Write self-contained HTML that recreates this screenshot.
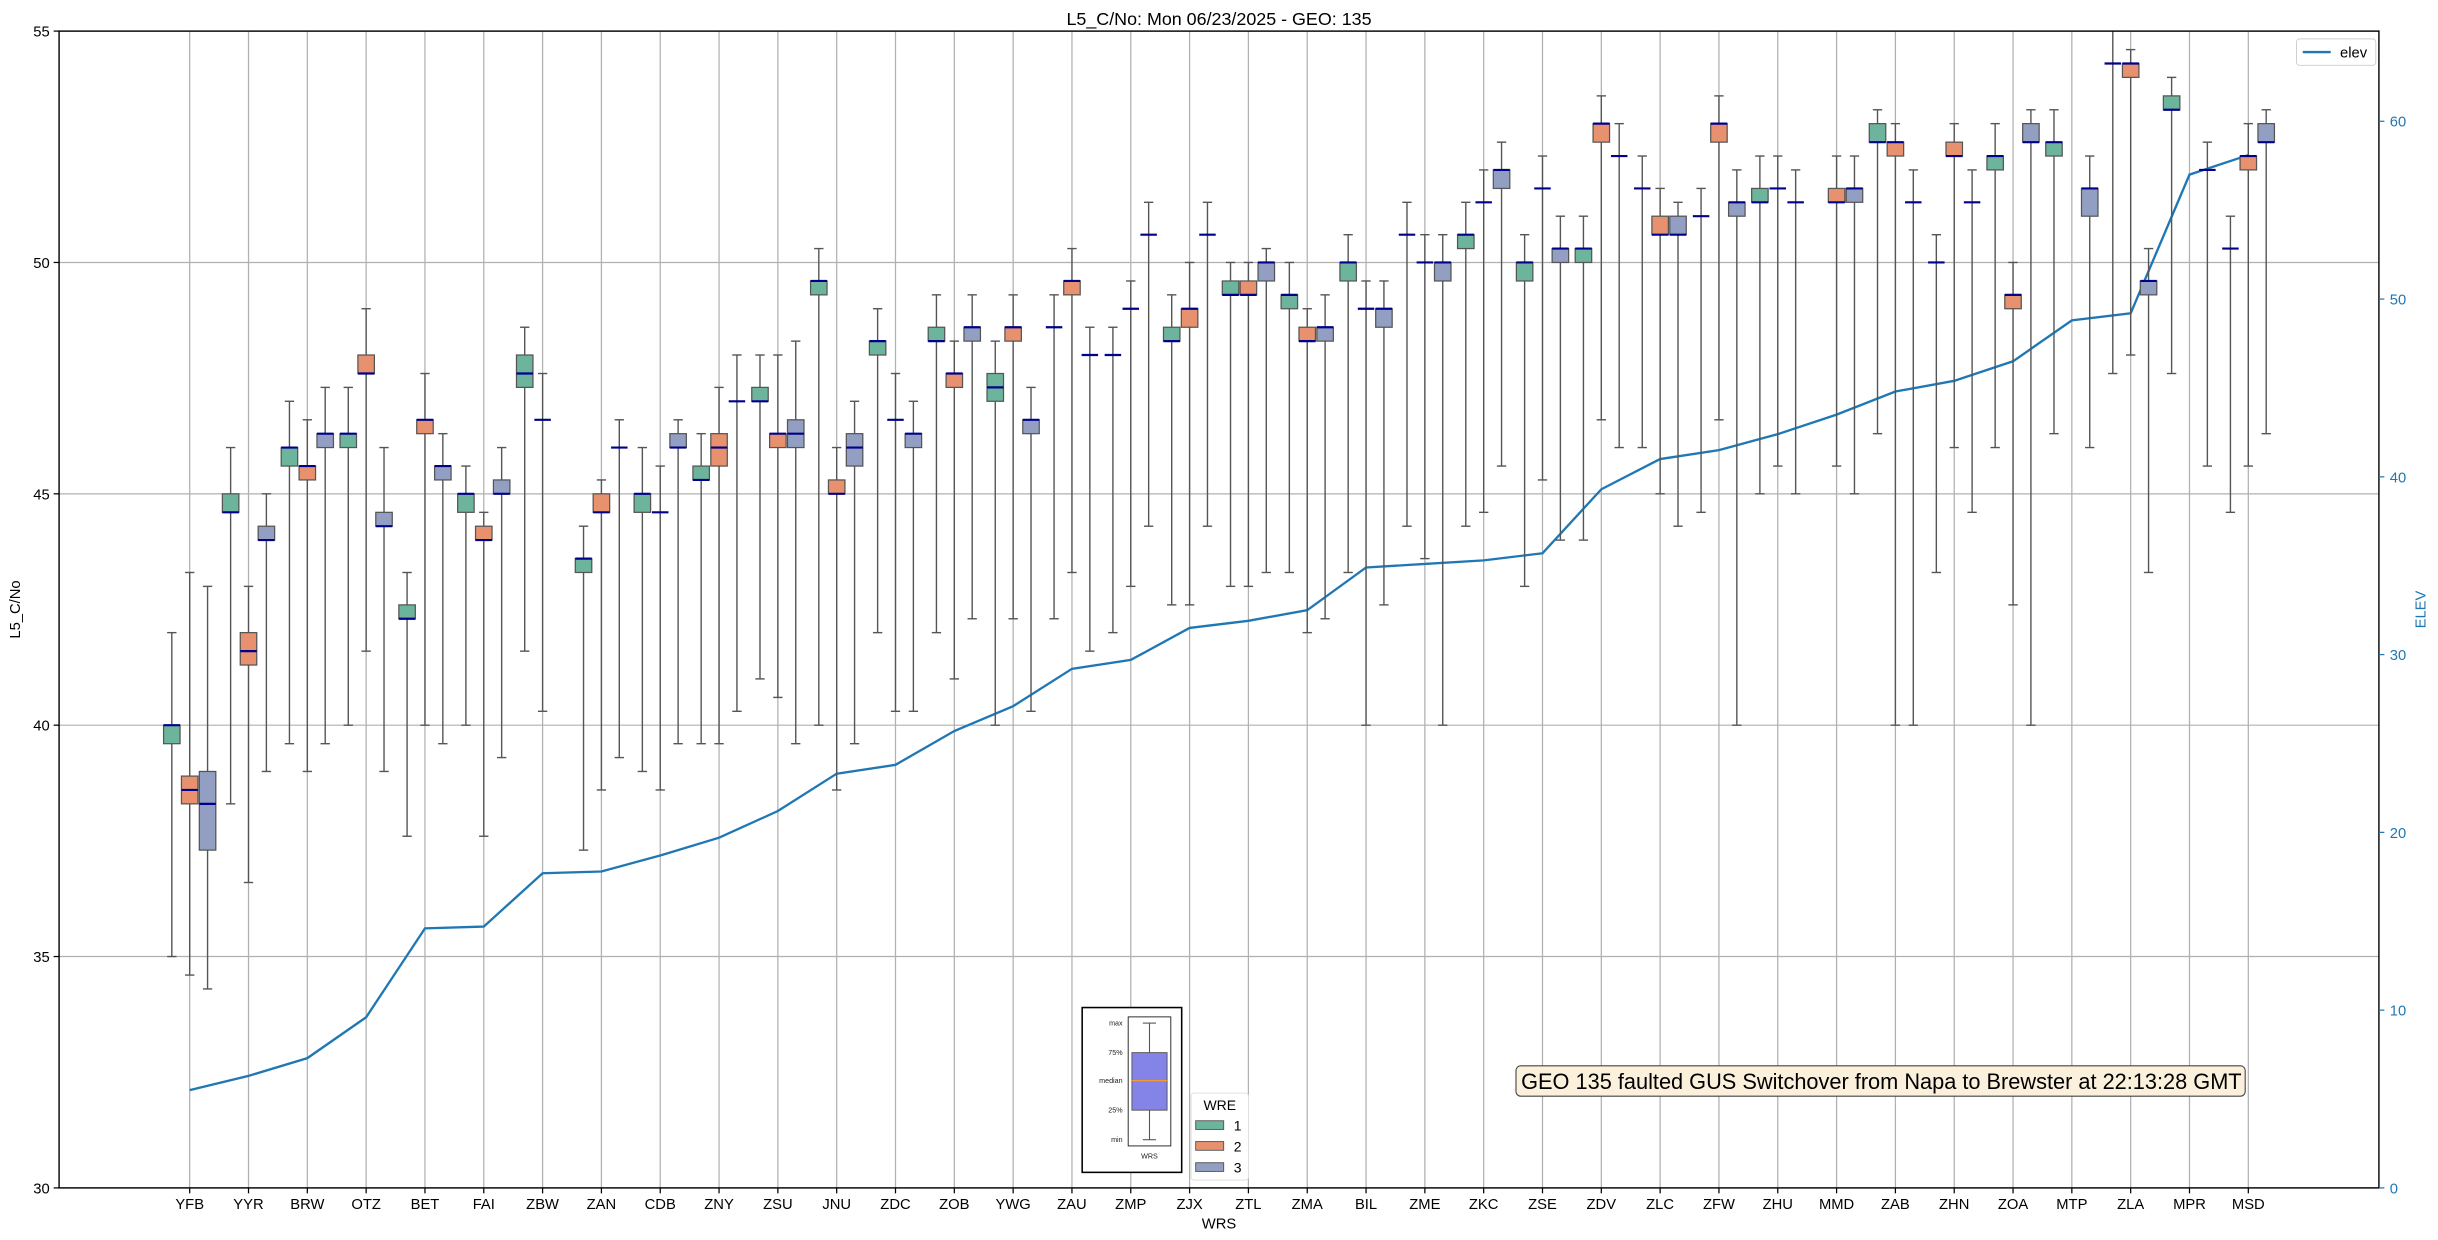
<!DOCTYPE html>
<html><head><meta charset="utf-8"><style>
html,body{margin:0;padding:0;background:#fff;}
svg{display:block;font-family:"Liberation Sans","DejaVu Sans",sans-serif;}
</style></head><body>
<svg id="chart" width="2438" height="1240" viewBox="0 0 1568 797.5" preserveAspectRatio="none" xmlns="http://www.w3.org/2000/svg">
<rect x="0" y="0" width="1568" height="797.5" fill="#fff"/>
<g id="grid"></g>
<g id="elevg"></g>
<g id="boxes"></g>
<rect x="38" y="20" width="1492" height="744" fill="none" stroke="#000" stroke-width="0.9"/>
<g id="axes"></g>
<text x="784" y="16" font-size="11.5" text-anchor="middle">L5_C/No: Mon 06/23/2025 - GEO: 135</text>
<text x="784" y="790" font-size="9.5" text-anchor="middle">WRS</text>
<text transform="translate(13,392) rotate(-90)" font-size="9.5" text-anchor="middle">L5_C/No</text>
<text transform="translate(1560,392) rotate(-90)" font-size="9.5" fill="#1f77b4" text-anchor="middle">ELEV</text>

<g>
<rect x="1477" y="25" width="51" height="17" rx="2" fill="#fff" stroke="#ccc" stroke-width="0.6"/>
<line x1="1481" y1="33.5" x2="1499" y2="33.5" stroke="#1f77b4" stroke-width="1.5"/>
<text x="1505" y="37" font-size="9.5">elev</text>
</g>

<g>
<rect x="696" y="648" width="64" height="106" fill="#fff" stroke="#000" stroke-width="1"/>
<rect x="725.6" y="654" width="27.4" height="83" fill="#fff" stroke="#222" stroke-width="0.6"/>
<line x1="739.3" y1="658" x2="739.3" y2="733" stroke="#555" stroke-width="0.7"/>
<line x1="735" y1="658" x2="743.5" y2="658" stroke="#555" stroke-width="0.7"/>
<line x1="735" y1="733" x2="743.5" y2="733" stroke="#555" stroke-width="0.7"/>
<rect x="728" y="677" width="22.6" height="37" fill="#8484e8" stroke="#555" stroke-width="0.6"/>
<line x1="728" y1="695" x2="750.6" y2="695" stroke="#f59a30" stroke-width="0.8"/>
<g font-size="4.6" fill="#222" text-anchor="end">
<text x="722" y="659.5">max</text><text x="722" y="678.5">75%</text><text x="722" y="696.5">median</text><text x="722" y="715.5">25%</text><text x="722" y="734.5">min</text>
</g>
<text x="739.3" y="745" font-size="4.6" text-anchor="middle" fill="#222">WRS</text>
</g>

<g>
<rect x="766" y="703" width="37" height="56" rx="2" fill="#fff" stroke="#ddd" stroke-width="0.6"/>
<text x="784.5" y="714" font-size="9" text-anchor="middle">WRE</text>
<rect x="769" y="720.8" width="18" height="5.6" fill="#6cb49c" stroke="#555" stroke-width="0.6"/>
<rect x="769" y="734.2" width="18" height="5.6" fill="#e8916e" stroke="#555" stroke-width="0.6"/>
<rect x="769" y="747.8" width="18" height="5.6" fill="#929fc2" stroke="#555" stroke-width="0.6"/>
<text x="796" y="727" font-size="9" text-anchor="middle">1</text>
<text x="796" y="740.5" font-size="9" text-anchor="middle">2</text>
<text x="796" y="754" font-size="9" text-anchor="middle">3</text>
</g>

<g>
<rect x="975" y="685.5" width="469" height="19.5" rx="3" fill="#faf0dc" stroke="#444" stroke-width="0.7"/>
<text x="1210" y="700.5" font-size="14" text-anchor="middle">GEO 135 faulted GUS Switchover from Napa to Brewster at 22:13:28 GMT</text>
</g>
</svg>
<script>
const categories = ["YFB","YYR","BRW","OTZ","BET","FAI","ZBW","ZAN","CDB","ZNY","ZSU","JNU","ZDC","ZOB","YWG","ZAU","ZMP","ZJX","ZTL","ZMA","BIL","ZME","ZKC","ZSE","ZDV","ZLC","ZFW","ZHU","MMD","ZAB","ZHN","ZOA","MTP","ZLA","MPR","MSD"];
// [min, q1, median, q3, max]
const wre1Stats = [[35,39.6,40,40,42],[38.3,44.6,44.6,45,46],[39.6,45.6,46,46,47],[40,46,46.3,46.3,47.3],[37.6,42.3,42.3,42.6,43.3],[40,44.6,45,45,45.6],[41.6,47.3,47.6,48,48.6],[37.3,43.3,43.6,43.6,44.3],[39,44.6,45,45,46],[39.6,45.3,45.3,45.6,46.3],[41,47,47,47.3,48],[40,49.3,49.6,49.6,50.3],[42,48,48.3,48.3,49],[42,48.3,48.3,48.6,49.3],[40,47,47.3,47.6,48.3],[42.3,48.6,48.6,48.6,49.3],[42,48,48,48,48.6],[42.6,48.3,48.3,48.6,49.3],[43,49.3,49.3,49.6,50],[43.3,49,49.3,49.3,50],[43.3,49.6,50,50,50.6],[44.3,50.6,50.6,50.6,51.3],[44.3,50.3,50.6,50.6,51.3],[43,49.6,50,50,50.6],[44,50,50.3,50.3,51],[46,51.6,51.6,51.6,52.3],[44.6,51,51,51,51.6],[45,51.3,51.3,51.6,52.3],null,[46.3,52.6,52.6,53,53.3],[43.3,50,50,50,50.6],[46,52,52.3,52.3,53],[46.3,52.3,52.6,52.6,53.3],[47.6,54.3,54.3,54.3,55.3],[47.6,53.3,53.3,53.6,54],[44.6,50.3,50.3,50.3,51]];
const wre2Stats = [[34.6,38.3,38.6,38.9,43.3],[36.6,41.3,41.6,42,43],[39,45.3,45.6,45.6,46.6],[41.6,47.6,47.6,48,49],[40,46.3,46.6,46.6,47.6],[37.6,44,44,44.3,44.6],[40.3,46.6,46.6,46.6,47.6],[38.6,44.6,44.6,45,45.3],[38.6,44.6,44.6,44.6,45.6],[39.6,45.6,46,46.3,47.3],[40.6,46,46.3,46.3,48],[38.6,45,45,45.3,46],[40.3,46.6,46.6,46.6,47.6],[41,47.3,47.6,47.6,48.3],[42.3,48.3,48.6,48.6,49.3],[43.3,49.3,49.6,49.6,50.3],[43,49,49,49,49.6],[42.6,48.6,49,49,50],[43,49.3,49.3,49.6,50],[42,48.3,48.3,48.6,49],[40,49,49,49,49.6],[43.6,50,50,50,50.6],[44.6,51.3,51.3,51.3,52],[45.3,51.6,51.6,51.6,52.3],[46.6,52.6,53,53,53.6],[45,50.6,50.6,51,51.6],[46.6,52.6,53,53,53.6],[45.6,51.6,51.6,51.6,52.3],[45.6,51.3,51.3,51.6,52.3],[40,52.3,52.6,52.6,53],[46,52.3,52.3,52.6,53],[42.6,49,49.3,49.3,50],null,[48,54,54.3,54.3,54.6],null,[45.6,52,52.3,52.3,53]];
const wre3Stats = [[34.3,37.3,38.3,39,43],[39,44,44,44.3,45],[39.6,46,46.3,46.3,47.3],[39,44.3,44.3,44.6,46],[39.6,45.3,45.6,45.6,46.3],[39.3,45,45,45.3,46],null,[39.3,46,46,46,46.6],[39.6,46,46,46.3,46.6],[40.3,47,47,47,48],[39.6,46,46.3,46.6,48.3],[39.6,45.6,46,46.3,47],[40.3,46,46.3,46.3,47],[42.3,48.3,48.6,48.6,49.3],[40.3,46.3,46.6,46.6,47.3],[41.6,48,48,48,48.6],[44.3,50.6,50.6,50.6,51.3],[44.3,50.6,50.6,50.6,51.3],[43.3,49.6,50,50,50.3],[42.3,48.3,48.6,48.6,49.3],[42.6,48.6,49,49,49.6],[40,49.6,50,50,50.6],[45.6,51.6,52,52,52.6],[44,50,50.3,50.3,51],[46,52.3,52.3,52.3,53],[44.3,50.6,50.6,51,51.3],[40,51,51.3,51.3,52],[45,51.3,51.3,51.3,52],[45,51.3,51.6,51.6,52.3],[40,51.3,51.3,51.3,52],[44.6,51.3,51.3,51.3,52],[40,52.6,52.6,53,53.3],[46,51,51.6,51.6,52.3],[43.3,49.3,49.6,49.6,50.3],[45.6,52,52,52,52.6],[46.3,52.6,52.6,53,53.3]];
const elevValues = [5.5,6.3,7.3,9.6,14.6,14.7,17.7,17.8,18.7,19.7,21.2,23.3,23.8,25.7,27.1,29.2,29.7,31.5,31.9,32.5,34.9,35.1,35.3,35.7,39.3,41.0,41.5,42.4,43.5,44.8,45.4,46.5,48.8,49.2,57.0,58.1];
const leftTicks = [30,35,40,45,50,55];
const rightTicks = [0,10,20,30,40,50,60];

const NS = "http://www.w3.org/2000/svg";
const L=38,R=1530,T=20,B=764;
const xPos = i => 122 + i*(1446-122)/35;
const yL = v => B - (v-30)/25*(B-T);
const yR = v => 764 - v/60*(764-78);
function mk(tag, attrs, parent){const e=document.createElementNS(NS,tag);for(const k in attrs)e.setAttribute(k,attrs[k]);parent.appendChild(e);return e;}
const grid=document.getElementById('grid'), axes=document.getElementById('axes'), boxes=document.getElementById('boxes'), elevg=document.getElementById('elevg');

leftTicks.forEach(t=>{
  const y=yL(t);
  const g=mk('line',{x1:L,x2:R,y1:y,y2:y,stroke:'#b0b0b0','stroke-width':0.8},grid);
  
  
  mk('line',{x1:L-3.5,x2:L,y1:y,y2:y,stroke:'#000','stroke-width':0.8},axes);
  const tx=mk('text',{x:L-6,y:y+3.5,'font-size':9.5,'text-anchor':'end'},axes);
  tx.textContent=t;
  
  
});
rightTicks.forEach(t=>{
  const y=yR(t);
  mk('line',{x1:R,x2:R+3.5,y1:y,y2:y,stroke:'#1f77b4','stroke-width':0.8},axes);
  const tx=mk('text',{x:R+7,y:y+3.5,'font-size':9.5,fill:'#1f77b4'},axes);
  tx.textContent=t;
  
  
});
categories.forEach((c,i)=>{
  const x=xPos(i);
  const g=mk('line',{x1:x,x2:x,y1:T,y2:B,stroke:'#b0b0b0','stroke-width':0.8},grid);
  
  
  mk('line',{x1:x,x2:x,y1:B,y2:B+3.5,stroke:'#000','stroke-width':0.8},axes);
  const tx=mk('text',{x:x,y:B+13.5,'font-size':9.5,'text-anchor':'middle'},axes);
  tx.textContent=c;
  
  
});

let d='';
elevValues.forEach((v,i)=>{d+=(i?'L':'M')+xPos(i).toFixed(2)+','+yR(v).toFixed(2);});
const ln=mk('path',{d:d,fill:'none',stroke:'#1f77b4','stroke-width':1.5},elevg);



const series=[{s:wre1Stats,off:-11.5,fill:'#6cb49c',n:'wre1'},{s:wre2Stats,off:0,fill:'#e8916e',n:'wre2'},{s:wre3Stats,off:11.5,fill:'#929fc2',n:'wre3'}];
const bw=10.6, cw=6;
series.forEach(se=>{
  se.s.forEach((st,i)=>{
    if(!st) return;
    const cx=xPos(i)+se.off;
    const [mn,q1,md,q3,mx]=st;
    const g=mk('g',{},boxes);
    
    
    const yT=Math.max(yL(mx),T);
    mk('line',{x1:cx,x2:cx,y1:yT,y2:yL(q3),stroke:'#555','stroke-width':0.9},g);
    mk('line',{x1:cx,x2:cx,y1:yL(q1),y2:yL(mn),stroke:'#555','stroke-width':0.9},g);
    if(yL(mx)>=T) mk('line',{x1:cx-cw/2,x2:cx+cw/2,y1:yL(mx),y2:yL(mx),stroke:'#555','stroke-width':0.9},g);
    mk('line',{x1:cx-cw/2,x2:cx+cw/2,y1:yL(mn),y2:yL(mn),stroke:'#555','stroke-width':0.9},g);
    if(q3>q1){
      mk('rect',{x:cx-bw/2,y:yL(q3),width:bw,height:yL(q1)-yL(q3),fill:se.fill,stroke:'#555','stroke-width':0.8},g);
    }
    mk('line',{x1:cx-bw/2,x2:cx+bw/2,y1:yL(md),y2:yL(md),stroke:'#00008b','stroke-width':1.4},g);
  });
});
</script>
</body></html>
